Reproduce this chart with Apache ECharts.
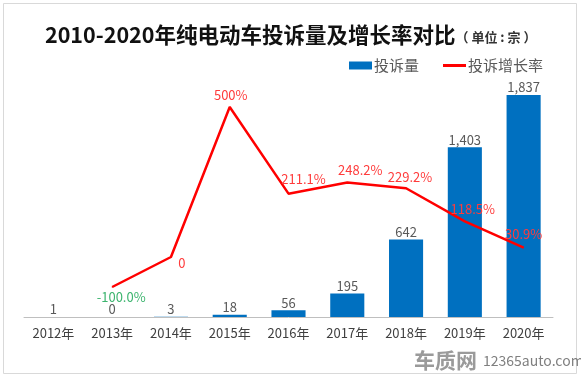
<!DOCTYPE html>
<html><head><meta charset="utf-8">
<script src="https://cdn.jsdelivr.net/npm/echarts@6/dist/echarts.min.js"></script>
<style>html,body{margin:0;padding:0;background:#fff}#c{width:581px;height:380px}</style>
</head><body><div id="c"></div>
<script>
var categories = ['2012年','2013年','2014年','2015年','2016年','2017年','2018年','2019年','2020年'];
var complaints = [1, 0, 3, 18, 56, 195, 642, 1403, 1837];
var growthRate = [null, -100.0, 0, 500, 211.1, 248.2, 229.2, 118.5, 30.9];
var growthLabels = ['', '-100.0%', '0', '500%', '211.1%', '248.2%', '229.2%', '118.5%', '30.9%'];

var FONT = '"Microsoft YaHei","Noto Sans CJK SC","Noto Sans",sans-serif';
function comma(n){ return String(n).replace(/\B(?=(\d{3})+(?!\d))/g, ','); }
var labelOffsets = [[0,0],[9,10],[11,6],[1,-12],[15,-15],[13,-12],[4,-11],[8,-12],[0,-14]];
var lineData = growthRate.map(function(v, i){
  return {
    value: v,
    label: {
      show: v !== null,
      position: 'inside',
      offset: labelOffsets[i],
      formatter: growthLabels[i],
      color: i === 1 ? '#3cb46e' : '#ff3b3b'
    }
  };
});

var chart = echarts.init(document.getElementById('c'), null, {renderer:'canvas'});
chart.setOption({
  backgroundColor: '#fff',
  animation: false,
  title: {
    left: 40, top: 19,
    text: '{a|2010-2020年纯电动车投诉量及增长率对比}{b|（ 单位 : 宗 ）}',
    textStyle: {
      rich: {
        a: {fontSize: 21.5, fontWeight: 'bold', color: '#111', fontFamily: FONT},
        b: {fontSize: 13, color: '#333', fontFamily: FONT, padding: [4,0,0,0]}
      }
    }
  },
  legend: {
    left: 344, top: 53,
    itemWidth: 23, itemHeight: 8, itemGap: 24,
    textStyle: {fontSize: 15, color: '#595959', fontFamily: FONT, padding: [0,0,0,-3]},
    data: [
      {name: '投诉量', icon: 'rect'},
      {name: '投诉增长率', icon: 'path://M0,0H23V3H0Z', itemStyle: {color: '#ff0000'}}
    ]
  },
  grid: {left: 24, right: 28, top: 77, bottom: 63},
  xAxis: {
    type: 'category', data: categories,
    axisTick: {show: false},
    axisLine: {lineStyle: {color: '#bfbfbf', width: 1}},
    axisLabel: {fontSize: 13, color: '#404040', margin: 10, fontFamily: FONT}
  },
  yAxis: [
    {type: 'value', min: 0, max: 1985, show: false, splitLine: {show: false}},
    {type: 'value', min: -200, max: 600, show: false, splitLine: {show: false}}
  ],
  series: [
    {
      name: '投诉量', type: 'bar', data: complaints, barWidth: '58%',
      itemStyle: {color: '#0070c0'},
      label: {show: true, position: 'top', distance: 1, fontSize: 13, color: '#595959', fontFamily: FONT,
        formatter: function(p){ return comma(p.value); }}
    },
    {
      name: '投诉增长率', type: 'line', yAxisIndex: 1, data: lineData,
      symbol: 'circle', symbolSize: 1, itemStyle: {color: '#ff0000'},
      lineStyle: {color: '#ff0000', width: 2.5},
      label: {fontSize: 13, fontFamily: FONT}
    }
  ],
  graphic: [
    {type: 'rect', shape: {x: 3.5, y: 3.5, width: 573, height: 370}, style: {fill: 'none', stroke: '#d9d9d9', lineWidth: 1}, silent: true},
    {type: 'text', left: 414, top: 350, style: {text: '车质网', font: 'bold 21px ' + FONT, fill: '#9a9a9a'}},
    {type: 'text', left: 483, top: 354, style: {text: '12365auto.com', font: '14px ' + FONT, fill: '#7f7f7f'}}
  ]
});
</script></body></html>
